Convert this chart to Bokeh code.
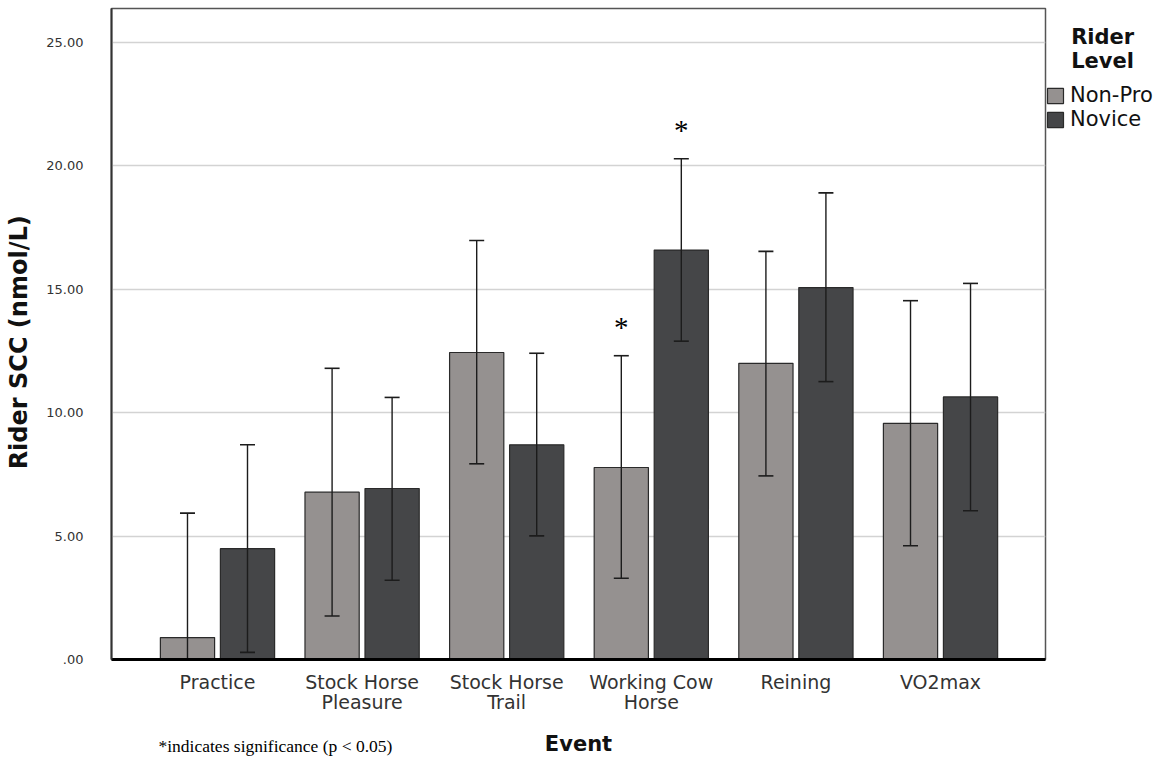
from bokeh.plotting import figure
from bokeh.layouts import column
from bokeh.models import (ColumnDataSource, Range1d, FixedTicker, Legend, LegendItem)
from bokeh.transform import dodge
from bokeh.core.properties import value
from bokeh.embed import file_html
from bokeh.resources import INLINE

# ---- data ----
events = ["Practice", "Stock Horse\nPleasure", "Stock Horse\nTrail",
          "Working Cow\nHorse", "Reining", "VO2max"]
levels = ["Non-Pro", "Novice"]
nonpro_mean = [0.89, 6.78, 12.44, 7.78, 12.00, 9.57]
nonpro_lo = [-4.15, 1.76, 7.93, 3.29, 7.44, 4.61]
nonpro_hi = [5.93, 11.80, 16.98, 12.31, 16.54, 14.54]
novice_mean = [4.49, 6.93, 8.70, 16.59, 15.07, 10.64]
novice_lo = [0.29, 3.21, 5.01, 12.90, 11.26, 6.03]
novice_hi = [8.70, 10.62, 12.41, 20.29, 18.91, 15.24]
significant = [("Working Cow\nHorse", "Non-Pro"), ("Working Cow\nHorse", "Novice")]
yticks = [0, 5, 10, 15, 20, 25]
ytick_labels = [".00", "5.00", "10.00", "15.00", "20.00", "25.00"]
x_title = "Event"
y_title = "Rider SCC (nmol/L)"
footnote = "*indicates significance (p < 0.05)"

colors = {"Non-Pro": "#959190", "Novice": "#454648"}
offsets = {"Non-Pro": -0.2075, "Novice": 0.2075}

xs = list(range(len(events)))
src = {
    "Non-Pro": ColumnDataSource(dict(x=xs, m=nonpro_mean, lo=nonpro_lo, hi=nonpro_hi)),
    "Novice": ColumnDataSource(dict(x=xs, m=novice_mean, lo=novice_lo, hi=novice_hi)),
}

xr = Range1d(-0.733, 5.726)
p = figure(frame_width=934, frame_height=651, output_backend="svg", toolbar_location=None,
           x_range=xr, y_range=Range1d(0, 26.38),
           min_border_left=111, min_border_right=115, min_border_top=8,
           min_border_bottom=68)

renderers = {}
for lvl in levels:
    s = src[lvl]
    off = offsets[lvl]
    r = p.vbar(x=dodge("x", off, range=p.x_range), top="m", width=0.375, bottom=0,
               source=s, fill_color=colors[lvl], line_color="#2a2a2a", line_width=1.2)
    renderers[lvl] = r
for lvl in levels:
    s = src[lvl]
    off = offsets[lvl]
    p.segment(x0=dodge("x", off, range=p.x_range), y0="lo",
              x1=dodge("x", off, range=p.x_range), y1="hi",
              source=s, line_color="#1c1c1c", line_width=1.4)
    p.scatter(x=dodge("x", off, range=p.x_range), y="lo", marker="dash", size=15,
              source=s, line_color="#1c1c1c", line_width=1.6)
    p.scatter(x=dodge("x", off, range=p.x_range), y="hi", marker="dash", size=15,
              source=s, line_color="#1c1c1c", line_width=1.6)

# significance stars
sx, sy = [], []
for ev, lvl in significant:
    i = events.index(ev)
    sx.append(i + offsets[lvl])
    sy.append((nonpro_hi if lvl == "Non-Pro" else novice_hi)[i])
p.text(x=sx, y=sy, text=["*"] * len(sx), text_font=value("Liberation Serif"),
       text_font_size="29px", text_align="center", text_baseline="alphabetic",
       y_offset=-29, text_color="black")

# axes
p.xaxis.ticker = FixedTicker(ticks=xs)
p.xaxis.major_label_overrides = {i: e for i, e in enumerate(events)}
p.xaxis.major_tick_line_color = None
p.xaxis.minor_tick_line_color = None
p.xaxis.axis_line_width = 3
p.xaxis.axis_line_color = "black"
p.xaxis.major_label_text_font = "DejaVu Sans"
p.xaxis.major_label_text_font_size = "19px"
p.xaxis.major_label_text_color = "#333333"
p.xaxis.major_label_text_line_height = 0.95
p.xaxis.major_label_standoff = 5

p.yaxis.ticker = FixedTicker(ticks=yticks)
p.yaxis.major_label_overrides = {t: l for t, l in zip(yticks, ytick_labels)}
p.yaxis.major_tick_line_color = None
p.yaxis.minor_tick_line_color = None
p.yaxis.axis_line_color = "#333333"
p.yaxis.axis_line_width = 2
p.yaxis.major_label_text_font = "DejaVu Sans"
p.yaxis.major_label_text_font_size = "13px"
p.yaxis.major_label_text_color = "#333333"
p.yaxis.major_label_standoff = 22
p.yaxis.axis_label = y_title + "\u00a0\u00a0"
p.yaxis.axis_label_text_font = "DejaVu Sans"
p.yaxis.axis_label_text_font_style = "bold"
p.yaxis.axis_label_text_font_size = "24px"
p.yaxis.axis_label_text_color = "#111111"
p.yaxis.axis_label_standoff = 10

p.xgrid.grid_line_color = None
p.ygrid.grid_line_color = "#d3d3d3"
p.ygrid.grid_line_width = 1.6
p.outline_line_color = "#555555"
p.outline_line_width = 1.5

# legend
nb = "\u00a0\u00a0\u00a0\u2009"
lg = Legend(items=[LegendItem(label=lvl, renderers=[renderers[lvl]]) for lvl in levels],
            title=nb + "Rider\n" + nb + "Level", location=(0, 528),
            padding=3, margin=0, spacing=0,
            border_line_color=None, background_fill_alpha=0,
            glyph_width=20, glyph_height=19, label_standoff=5,
            label_text_font="DejaVu Sans", label_text_font_size="21px",
            label_text_color="#111111",
            title_text_font="DejaVu Sans", title_text_font_style="bold",
            title_text_font_size="21px", title_text_color="#111111",
            title_standoff=10)
p.add_layout(lg, "right")

# bottom strip: x-axis title and footnote, sharing the x range
q = figure(frame_width=934, frame_height=40, output_backend="svg", toolbar_location=None,
           x_range=xr, y_range=Range1d(0, 40), x_axis_type=None, y_axis_type=None,
           min_border_left=111, min_border_right=115, min_border_top=0,
           min_border_bottom=0)
q.outline_line_color = None
q.xgrid.grid_line_color = None
q.ygrid.grid_line_color = None
q.text(x=[(xr.start + xr.end) / 2], y=[24], text=[x_title],
       text_font=value("DejaVu Sans"), text_font_style="bold", text_font_size="21px",
       text_align="center", text_baseline="middle", text_color="#111111")
q.text(x=[-0.408], y=[22], text=[footnote],
       text_font=value("Liberation Serif"), text_font_size="17.5px",
       text_align="left", text_baseline="middle", text_color="black")

layout = column(p, q, spacing=0)
open("out.html", "w").write(file_html(layout, INLINE))
